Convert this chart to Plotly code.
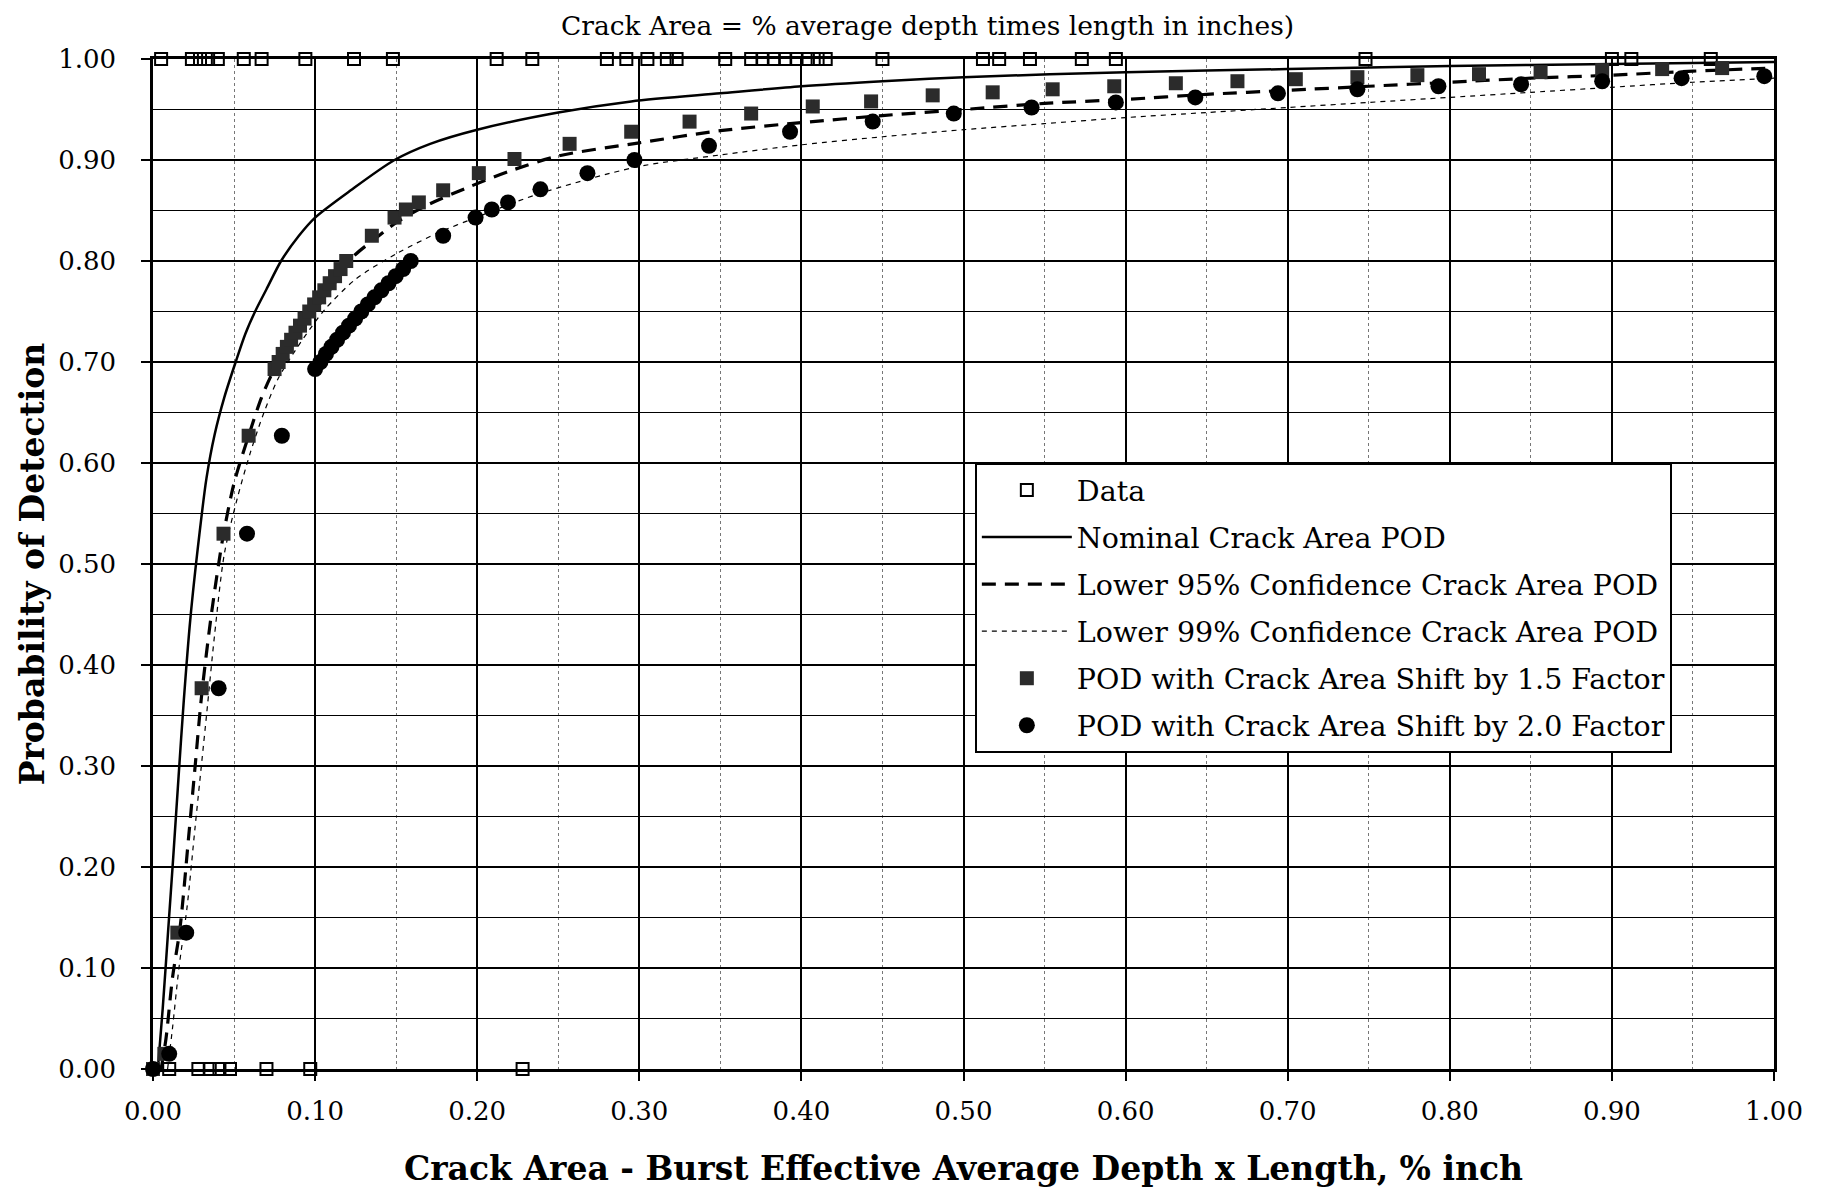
import plotly.graph_objects as go

# ---------------- data ----------------
data_top_x = [0.005, 0.024, 0.029, 0.034, 0.040, 0.056, 0.067, 0.094, 0.124, 0.148,
              0.212, 0.234, 0.280, 0.292, 0.305, 0.317, 0.323, 0.353, 0.369, 0.376,
              0.383, 0.390, 0.397, 0.404, 0.410, 0.415, 0.450, 0.512, 0.522, 0.541,
              0.573, 0.594, 0.748, 0.900, 0.912, 0.961]
data_top_y = [1.0] * len(data_top_x)
data_bot_x = [0.010, 0.028, 0.035, 0.041, 0.0475, 0.070, 0.097, 0.228]
data_bot_y = [0.0] * len(data_bot_x)

nom_x = [0.003, 0.006, 0.0093, 0.0125, 0.0158, 0.019, 0.023, 0.0286, 0.033, 0.038,
         0.044, 0.051, 0.057, 0.063, 0.070, 0.079, 0.090, 0.100, 0.122, 0.149, 0.171,
         0.20, 0.25, 0.295, 0.35, 0.40, 0.45, 0.50, 0.60, 0.70, 0.80, 0.90, 1.00]
nom_y = [0.0, 0.06, 0.136, 0.21, 0.29, 0.365, 0.445, 0.529, 0.585, 0.628,
         0.665, 0.700, 0.728, 0.750, 0.772, 0.800, 0.825, 0.843, 0.870, 0.90, 0.916,
         0.930, 0.947, 0.958, 0.966, 0.973, 0.978, 0.982, 0.987, 0.990, 0.993, 0.995, 0.997]

l95_x = [0.005, 0.008, 0.012, 0.0167, 0.022, 0.026, 0.030, 0.036, 0.043, 0.050,
         0.059, 0.067, 0.075, 0.085, 0.095, 0.105, 0.115, 0.124, 0.137, 0.150,
         0.170, 0.196, 0.220, 0.250, 0.30, 0.35, 0.40, 0.45, 0.50, 0.55,
         0.60, 0.65, 0.70, 0.75, 0.80, 0.85, 0.90, 0.95, 1.00]
l95_y = [0.0, 0.03, 0.09, 0.14, 0.23, 0.30, 0.37, 0.45, 0.525, 0.58,
         0.627, 0.665, 0.693, 0.716, 0.740, 0.762, 0.785, 0.805, 0.822, 0.838,
         0.856, 0.874, 0.889, 0.904, 0.917, 0.929, 0.937, 0.944, 0.950, 0.956,
         0.960, 0.965, 0.969, 0.973, 0.977, 0.981, 0.984, 0.988, 0.991]

l99_x = [0.009, 0.012, 0.016, 0.021, 0.026, 0.033, 0.038, 0.044, 0.052, 0.060,
         0.068, 0.077, 0.088, 0.097, 0.106, 0.125, 0.151, 0.176, 0.196, 0.237,
         0.298, 0.35, 0.40, 0.45, 0.50, 0.55, 0.60, 0.65, 0.70, 0.75,
         0.80, 0.85, 0.90, 0.95, 1.00]
l99_y = [0.0, 0.04, 0.10, 0.16, 0.24, 0.35, 0.43, 0.51, 0.565, 0.61,
         0.648, 0.683, 0.712, 0.733, 0.752, 0.782, 0.808, 0.828, 0.841, 0.866,
         0.893, 0.905, 0.915, 0.923, 0.930, 0.936, 0.942, 0.947, 0.952, 0.957,
         0.962, 0.967, 0.972, 0.977, 0.981]

sq_x = [0.0, 0.007, 0.015, 0.030, 0.0435, 0.059,
        0.0750, 0.0775, 0.0800, 0.0826, 0.0852, 0.0879, 0.0907, 0.0935, 0.0964,
        0.0994, 0.1025, 0.1057, 0.1090, 0.1123, 0.1157, 0.1192,
        0.135, 0.149, 0.156, 0.164, 0.179, 0.201, 0.223, 0.257, 0.295, 0.331,
        0.369, 0.407, 0.443, 0.481, 0.518, 0.555, 0.593, 0.631, 0.669, 0.705,
        0.743, 0.780, 0.818, 0.856, 0.894, 0.931, 0.968]
sq_y = [0.0, 0.015, 0.135, 0.377, 0.530, 0.627,
        0.693, 0.700, 0.708, 0.715, 0.722, 0.729, 0.736, 0.743, 0.750,
        0.757, 0.764, 0.771, 0.778, 0.785, 0.792, 0.800,
        0.825, 0.843, 0.851, 0.858, 0.870, 0.887, 0.901, 0.916, 0.928, 0.938,
        0.946, 0.953, 0.958, 0.964, 0.967, 0.970, 0.973, 0.976, 0.978, 0.980,
        0.982, 0.984, 0.985, 0.987, 0.989, 0.990, 0.991]

ci_x = [0.0, 0.0100, 0.0205, 0.0405, 0.058, 0.0795,
        0.1000, 0.1033, 0.1067, 0.1101, 0.1136, 0.1172, 0.1209, 0.1247, 0.1285,
        0.1325, 0.1366, 0.1409, 0.1453, 0.1497, 0.1543, 0.1590,
        0.179, 0.199, 0.209, 0.219, 0.239, 0.268, 0.297, 0.343, 0.393, 0.444,
        0.494, 0.542, 0.594, 0.643, 0.694, 0.743, 0.793, 0.844, 0.894, 0.943, 0.994]
ci_y = [0.0, 0.015, 0.135, 0.377, 0.530, 0.627,
        0.693, 0.700, 0.708, 0.715, 0.722, 0.729, 0.736, 0.743, 0.750,
        0.757, 0.764, 0.771, 0.778, 0.785, 0.792, 0.800,
        0.825, 0.843, 0.851, 0.858, 0.871, 0.887, 0.900, 0.914, 0.928, 0.938,
        0.946, 0.952, 0.957, 0.962, 0.966, 0.970, 0.973, 0.975, 0.978, 0.981, 0.983]

tick_vals = [0.0, 0.1, 0.2, 0.3, 0.4, 0.5, 0.6, 0.7, 0.8, 0.9, 1.0]

title_text = "Crack Area = % average depth times length in inches)"
x_title = "Crack Area - Burst Effective Average Depth x Length, % inch"
y_title = "Probability of Detection"

FONT = "DejaVu Serif"

fig = go.Figure()

fig.add_trace(go.Scatter(
    x=data_top_x + data_bot_x, y=data_top_y + data_bot_y, mode="markers",
    name="Data", legendgroup="a",
    marker=dict(symbol="square-open", size=12, color="black", line=dict(width=2, color="black")),
    cliponaxis=False))
fig.add_trace(go.Scatter(
    x=nom_x, y=nom_y, mode="lines", name="Nominal Crack Area POD", legendgroup="b",
    line=dict(color="black", width=2.5, shape="spline", smoothing=0.8)))
fig.add_trace(go.Scatter(
    x=l95_x, y=l95_y, mode="lines", name="Lower 95% Confidence Crack Area POD", legendgroup="c",
    line=dict(color="black", width=3.2, dash="14px,9px", shape="spline", smoothing=0.8)))
fig.add_trace(go.Scatter(
    x=l99_x, y=l99_y, mode="lines", name="Lower 99% Confidence Crack Area POD", legendgroup="d",
    line=dict(color="black", width=1.2, dash="5px,5px", shape="spline", smoothing=0.8)))
fig.add_trace(go.Scatter(
    x=sq_x, y=sq_y, mode="markers", name="POD with Crack Area Shift by 1.5 Factor", legendgroup="e",
    marker=dict(symbol="square", size=14, color="#2b2b2b", line=dict(width=0)),
    cliponaxis=False))
fig.add_trace(go.Scatter(
    x=ci_x, y=ci_y, mode="markers", name="POD with Crack Area Shift by 2.0 Factor", legendgroup="f",
    marker=dict(symbol="circle", size=16, color="black", line=dict(width=0)),
    cliponaxis=False))

fig.add_annotation(text=title_text, xref="paper", yref="paper", x=0.478, y=1.0,
                   xanchor="center", yanchor="bottom", yshift=16, showarrow=False,
                   font=dict(family=FONT, size=26.5, color="black"))

axis_common = dict(
    range=[0, 1], tickvals=tick_vals, tickformat=".2f",
    showgrid=True, gridcolor="black", gridwidth=2.2,
    showline=True, linecolor="black", linewidth=2.5, mirror=True,
    ticks="outside", ticklen=9, tickwidth=2, tickcolor="black",
    zeroline=False,
    tickfont=dict(family=FONT, size=26, color="black"),
)

fig.update_layout(
    width=1824, height=1191,
    margin=dict(l=145, r=58, t=51, b=130),
    paper_bgcolor="white", plot_bgcolor="white",
    font=dict(family=FONT, color="black"),
    xaxis=dict(**axis_common,
               minor=dict(dtick=0.05, tick0=0, showgrid=True, gridcolor="#777777",
                          gridwidth=1, griddash="dot"),
               title=dict(text=f"<b>{x_title}</b>", font=dict(family=FONT, size=33), standoff=32),
               ticklabelstandoff=8),
    yaxis=dict(**axis_common,
               minor=dict(dtick=0.05, tick0=0, showgrid=True, gridcolor="black", gridwidth=1.4),
               title=dict(text=f"<b>{y_title}</b>", font=dict(family=FONT, size=33), standoff=4),
               ticklabelstandoff=20),
    showlegend=True,
    legend=dict(x=0.507, y=0.60, xanchor="left", yanchor="top",
                bgcolor="white", bordercolor="black", borderwidth=2,
                font=dict(family=FONT, size=28.5, color="black"),
                traceorder="grouped", tracegroupgap=7, itemwidth=90),
)

fig.write_html("out.html")
